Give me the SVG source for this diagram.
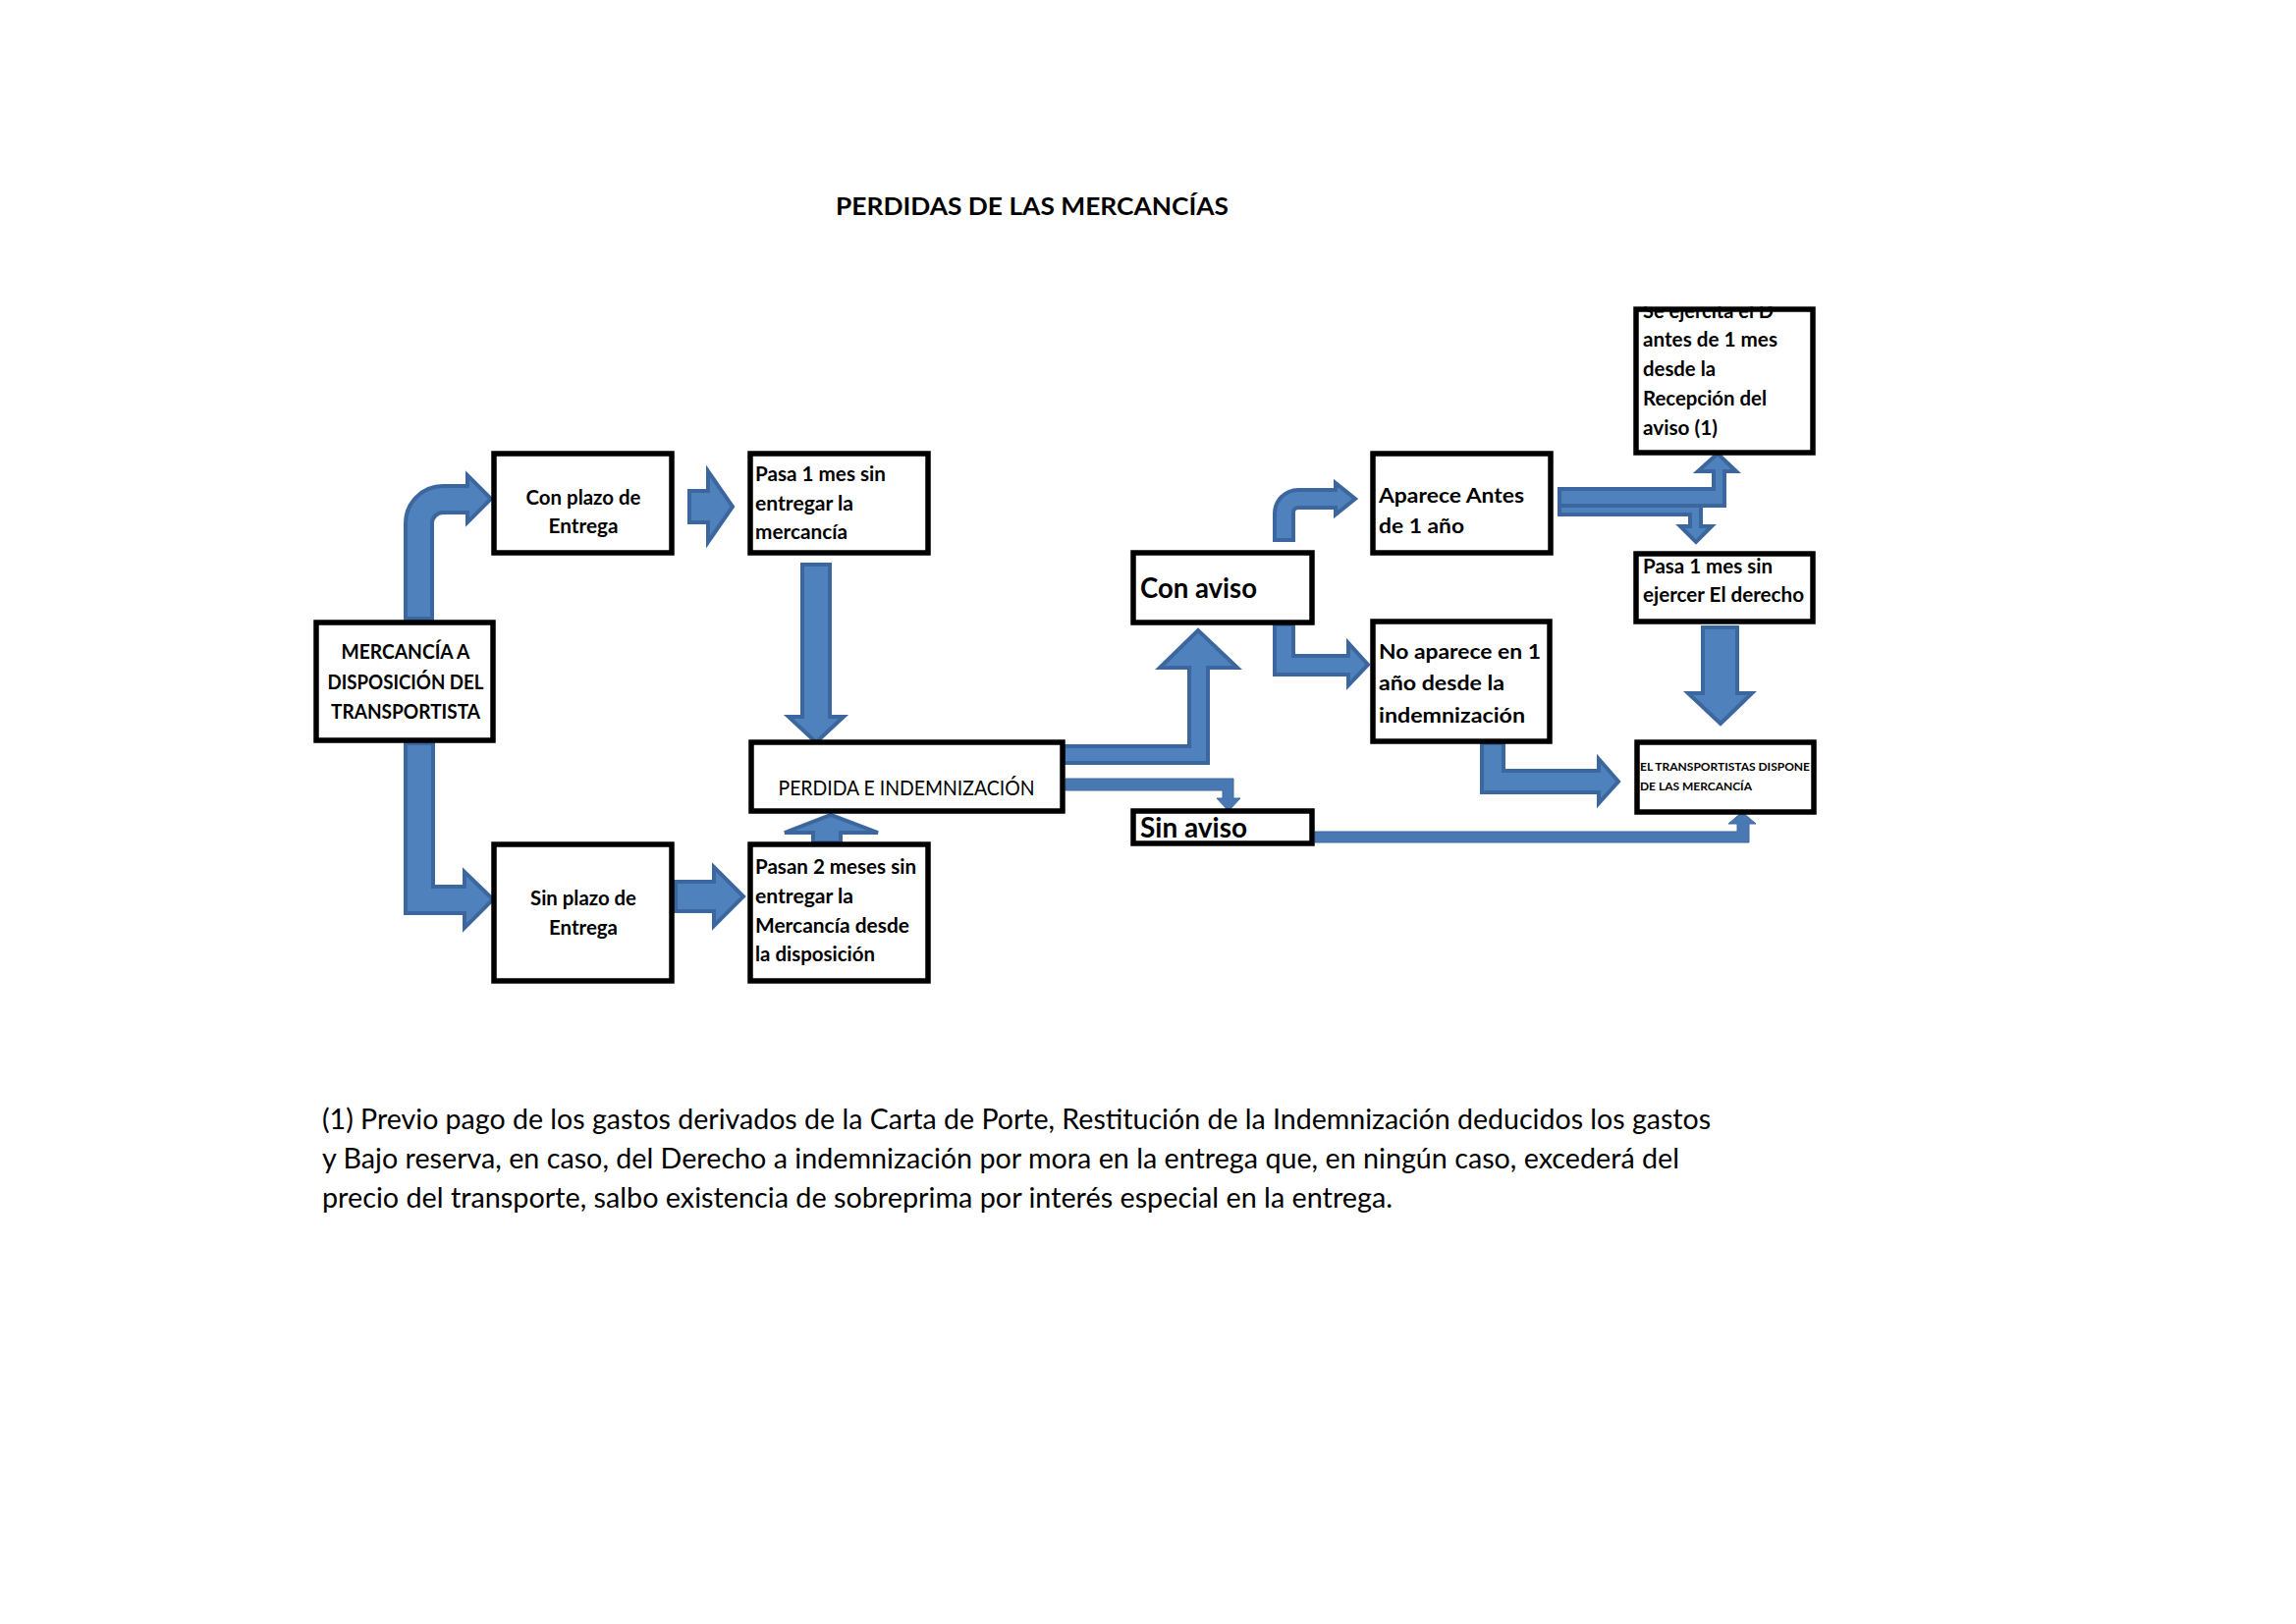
<svg xmlns="http://www.w3.org/2000/svg" width="2338" height="1654" viewBox="0 0 2338 1654">
<style>
.box{fill:#fff;stroke:#000;stroke-width:5.5}
.t{font-family:Lato,"Liberation Sans",sans-serif;font-weight:bold;font-size:20px;fill:#000}
.c{text-anchor:middle}
.r{font-weight:normal}
.arr{fill:#4f81bd;stroke:#3c679e;stroke-width:4;stroke-linejoin:miter}
.flat{fill:#4a78b3;stroke:#3f6aa0;stroke-width:1}
</style>
<defs>
<clipPath id="clipSe"><rect x="1660" y="312" width="200" height="160"/></clipPath>
</defs>
<rect width="2338" height="1654" fill="#fff"/>
<text class="t" x="851" y="219" style="font-size:24px" textLength="400" lengthAdjust="spacingAndGlyphs">PERDIDAS DE LAS MERCANCÍAS</text>

<g id="connectors">
<path class="arr" d="M413,630 V533 A38,38 0 0 1 451,495 H476 V484 L500,508 L476,532 V522 H451 A11,11 0 0 0 440,533 V630 Z"/>
<path class="arr" d="M702,500 H721 V480 L746,516 L721,552 V532 H702 Z"/>
<path class="arr" d="M817,575 H845 V730 H859 L831,756 L803,730 H817 Z"/>
<path class="arr" d="M413,757 H441 V903 H473 V888 L502,916 L473,945 V930 H413 Z"/>
<path class="arr" d="M688,898 H727 V883 L757,913 L727,943 V928 H688 Z"/>
<path class="arr" d="M828,858 V848 H799 L846,830 L894,848 H856 V858 Z"/>
<path class="arr" d="M1083,760 H1211 V680 H1181 L1220,642 L1260,680 H1230 V777 H1083 Z"/>
<path class="flat" d="M1085,793 H1256 V813 H1263 L1251,826 L1239,813 H1245 V805 H1085 Z"/>
<path class="flat" d="M1339,847 H1769 V839 H1760 L1774,827 L1788,839 H1781 V858 H1339 Z"/>
<path class="arr" d="M1298,550 V523 A24,24 0 0 1 1322,499 H1360 V492 L1380,508 L1360,524 V517 H1322 A5,5 0 0 0 1317,522 V550 Z"/>
<path class="arr" d="M1298,636 H1317 V668 H1373 V655 L1393,677 L1373,698 V687 H1298 Z"/>
<path class="arr" d="M1509,757 H1531 V785 H1628 V773 L1648,796 L1628,818 V807 H1509 Z"/>
<path class="arr" d="M1588,513 H1732 V536 H1743 L1727,552 L1711,536 H1721 V524 H1588 Z"/>
<path class="arr" d="M1588,498 H1745 V480 H1729 L1749,462 L1768,480 H1756 V515 H1588 Z"/>
<path class="arr" d="M1734,639 H1769 V706 H1784 L1752,737 L1719,706 H1734 Z"/>
</g>

<g id="n-mercancia">
<rect class="box" x="322" y="634" width="180" height="120"/>
<text class="t c" x="413" y="671" textLength="131" lengthAdjust="spacingAndGlyphs">MERCANCÍA A</text>
<text class="t c" x="413" y="702" textLength="159" lengthAdjust="spacingAndGlyphs">DISPOSICIÓN DEL</text>
<text class="t c" x="413" y="732" textLength="152" lengthAdjust="spacingAndGlyphs">TRANSPORTISTA</text>
</g>
<g id="n-conplazo">
<rect class="box" x="503" y="462" width="181" height="101"/>
<text class="t c" x="594" y="514" textLength="117" lengthAdjust="spacingAndGlyphs">Con plazo de</text>
<text class="t c" x="594" y="543" textLength="71" lengthAdjust="spacingAndGlyphs">Entrega</text>
</g>
<g id="n-pasa1">
<rect class="box" x="764" y="462" width="181" height="101"/>
<text class="t" x="769" y="490" textLength="133" lengthAdjust="spacingAndGlyphs">Pasa 1 mes sin</text>
<text class="t" x="769" y="520" textLength="100" lengthAdjust="spacingAndGlyphs">entregar la</text>
<text class="t" x="769" y="549" textLength="94" lengthAdjust="spacingAndGlyphs">mercancía</text>
</g>
<g id="n-sinplazo">
<rect class="box" x="503" y="860" width="181" height="139"/>
<text class="t c" x="594" y="922" textLength="108" lengthAdjust="spacingAndGlyphs">Sin plazo de</text>
<text class="t c" x="594" y="952" textLength="70" lengthAdjust="spacingAndGlyphs">Entrega</text>
</g>
<g id="n-pasan2">
<rect class="box" x="764" y="860" width="181" height="139"/>
<text class="t" x="769" y="890" textLength="164" lengthAdjust="spacingAndGlyphs">Pasan 2 meses sin</text>
<text class="t" x="769" y="920" textLength="100" lengthAdjust="spacingAndGlyphs">entregar la</text>
<text class="t" x="769" y="950" textLength="157" lengthAdjust="spacingAndGlyphs">Mercancía desde</text>
<text class="t" x="769" y="979" textLength="122" lengthAdjust="spacingAndGlyphs">la disposición</text>
</g>
<g id="n-perdida">
<rect class="box" x="765" y="756" width="317" height="70"/>
<text class="t r c" x="923" y="810" style="font-size:21px" textLength="261" lengthAdjust="spacingAndGlyphs">PERDIDA E INDEMNIZACIÓN</text>
</g>
<g id="n-conaviso">
<rect class="box" x="1154" y="563" width="182" height="71"/>
<text class="t" x="1161" y="609" style="font-size:29px" textLength="119" lengthAdjust="spacingAndGlyphs">Con aviso</text>
</g>
<g id="n-sinaviso">
<rect class="box" x="1154" y="826" width="182" height="33"/>
<text class="t" x="1161" y="853" style="font-size:28px" textLength="109" lengthAdjust="spacingAndGlyphs">Sin aviso</text>
</g>
<g id="n-aparece">
<rect class="box" x="1398" y="462" width="181" height="101"/>
<text class="t" x="1404" y="512" style="font-size:21px" textLength="148" lengthAdjust="spacingAndGlyphs">Aparece Antes</text>
<text class="t" x="1404" y="543" style="font-size:21px" textLength="87" lengthAdjust="spacingAndGlyphs">de 1 año</text>
</g>
<g id="n-noaparece">
<rect class="box" x="1398" y="633" width="180" height="122"/>
<text class="t" x="1404" y="671" style="font-size:21px" textLength="165" lengthAdjust="spacingAndGlyphs">No aparece en 1</text>
<text class="t" x="1404" y="703" style="font-size:21px" textLength="128" lengthAdjust="spacingAndGlyphs">año desde la</text>
<text class="t" x="1404" y="736" style="font-size:21px" textLength="149" lengthAdjust="spacingAndGlyphs">indemnización</text>
</g>
<g id="n-seejercita">
<rect class="box" x="1666" y="315" width="180" height="146"/>
<text class="t" x="1673" y="324" clip-path="url(#clipSe)" textLength="133" lengthAdjust="spacingAndGlyphs">Se ejercita el D</text>
<text class="t" x="1673" y="353" textLength="137" lengthAdjust="spacingAndGlyphs">antes de 1 mes</text>
<text class="t" x="1673" y="383" textLength="74" lengthAdjust="spacingAndGlyphs">desde la</text>
<text class="t" x="1673" y="413" textLength="126" lengthAdjust="spacingAndGlyphs">Recepción del</text>
<text class="t" x="1673" y="443" textLength="76" lengthAdjust="spacingAndGlyphs">aviso (1)</text>
</g>
<g id="n-pasa1mes-derecho">
<rect class="box" x="1666" y="564" width="180" height="69"/>
<text class="t" x="1673" y="584" textLength="132" lengthAdjust="spacingAndGlyphs">Pasa 1 mes sin</text>
<text class="t" x="1673" y="613" textLength="164" lengthAdjust="spacingAndGlyphs">ejercer El derecho</text>
</g>
<g id="n-transportista-dispone">
<rect class="box" x="1667" y="756" width="180" height="71"/>
<text class="t" x="1670" y="785" style="font-size:12px" textLength="173" lengthAdjust="spacingAndGlyphs">EL TRANSPORTISTAS DISPONE</text>
<text class="t" x="1670" y="805" style="font-size:12px" textLength="114" lengthAdjust="spacingAndGlyphs">DE LAS MERCANCÍA</text>
</g>

<g id="footnote">
<text class="t r" x="328" y="1150" style="font-size:29px" textLength="1414" lengthAdjust="spacingAndGlyphs">(1) Previo pago de los gastos derivados de la Carta de Porte, Restitución de la Indemnización deducidos los gastos</text>
<text class="t r" x="328" y="1190" style="font-size:29px" textLength="1382" lengthAdjust="spacingAndGlyphs">y Bajo reserva, en caso, del Derecho a indemnización por mora en la entrega que, en ningún caso, excederá del</text>
<text class="t r" x="328" y="1230" style="font-size:29px" textLength="1090" lengthAdjust="spacingAndGlyphs">precio del transporte, salbo existencia de sobreprima por interés especial en la entrega.</text>
</g>
</svg>
